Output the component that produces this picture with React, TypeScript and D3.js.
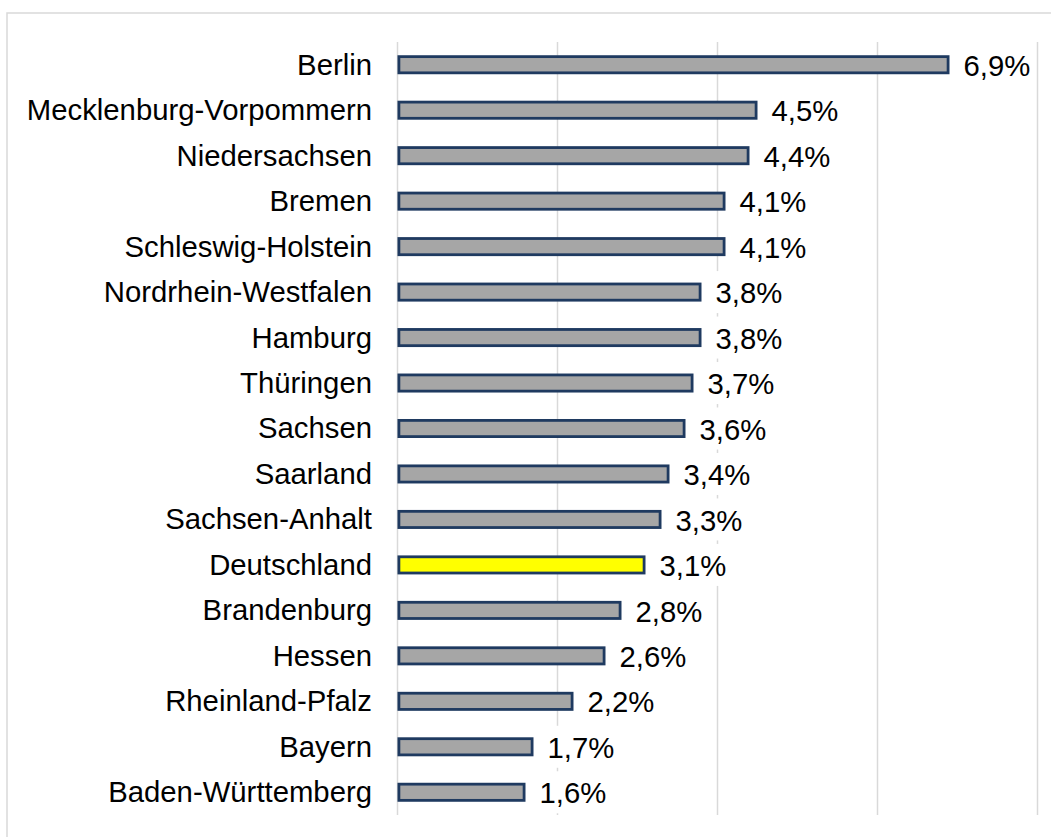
import React from "react";
import * as d3 from "d3";

const categories = [
  "Berlin",
  "Mecklenburg-Vorpommern",
  "Niedersachsen",
  "Bremen",
  "Schleswig-Holstein",
  "Nordrhein-Westfalen",
  "Hamburg",
  "Thüringen",
  "Sachsen",
  "Saarland",
  "Sachsen-Anhalt",
  "Deutschland",
  "Brandenburg",
  "Hessen",
  "Rheinland-Pfalz",
  "Bayern",
  "Baden-Württemberg",
];
const values = [6.9, 4.5, 4.4, 4.1, 4.1, 3.8, 3.8, 3.7, 3.6, 3.4, 3.3, 3.1, 2.8, 2.6, 2.2, 1.7, 1.6];
const highlight = "Deutschland";
const gridTicks = [0, 2, 4, 6, 8];

const W = 1051;
const H = 837;
const FONT = "'Liberation Sans', Arial, Helvetica, sans-serif";
const FS = 29.3;

export default function App() {
  const x = d3.scaleLinear().domain([0, 8]).range([397.5, 1037.5]);
  const y = d3
    .scaleBand<string>()
    .domain(categories)
    .range([42, 815])
    .paddingInner(0.582)
    .paddingOuter(0.291);
  const bw = y.bandwidth();
  const sw = 2.8;
  const fmt = (v: number) => v.toFixed(1).replace(".", ",") + "%";
  const labelW = FS * 2.279;

  return (
    <svg
      width={W}
      height={H}
      style={{ position: "absolute", left: 0, top: 0, background: "#fff" }}
      fontFamily={FONT}
    >
      <rect x={0} y={0} width={W} height={H} fill="#fff" />
      <rect x={7} y={13} width={W + 20} height={H + 20} fill="none" stroke="#D9D9D9" strokeWidth={1.5} />
      {gridTicks.map((t) => (
        <line key={t} x1={x(t)} x2={x(t)} y1={42} y2={815} stroke="#D9D9D9" strokeWidth={1.5} />
      ))}
      {categories.map((c, i) => {
        const y0 = y(c)!;
        const cy = y0 + bw / 2;
        const v = values[i];
        const xe = x(v);
        return (
          <g key={c}>
            <text x={372} y={cy} dy="0.34em" textAnchor="end" fontSize={FS} fill="#000">
              {c}
            </text>
            <rect
              x={x(0) + sw / 2}
              y={y0 + sw / 2}
              width={xe - x(0) - sw}
              height={bw - sw}
              fill={c === highlight ? "#FFFF00" : "#A6A6A6"}
              stroke="#1F3A60"
              strokeWidth={sw}
            />
            <rect x={xe + 12} y={cy - 21} width={labelW + 4} height={42} fill="#fff" />
            <text x={xe + 14} y={cy} dy="0.38em" fontSize={FS} fill="#000">
              {fmt(v)}
            </text>
          </g>
        );
      })}
    </svg>
  );
}
